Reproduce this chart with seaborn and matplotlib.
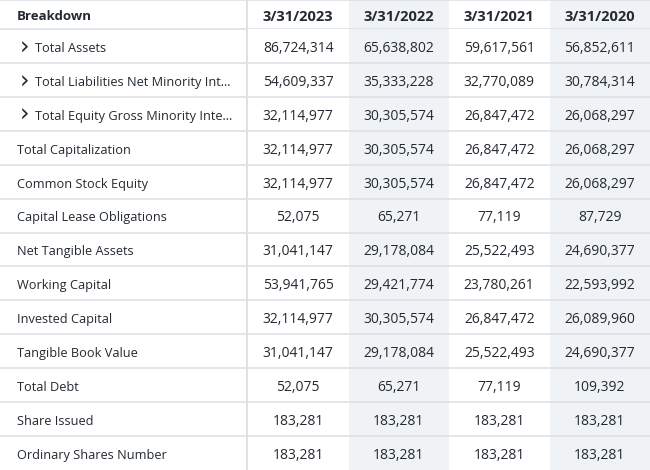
import numpy as np
import pandas as pd
import matplotlib
matplotlib.use("Agg")
import matplotlib.pyplot as plt
from matplotlib.colors import ListedColormap
import seaborn as sns

sns.set_theme(style="white")
plt.rcParams['font.family'] = ['Open Sans', 'DejaVu Sans']

header_label = "Breakdown"
dates = ["3/31/2023", "3/31/2022", "3/31/2021", "3/31/2020"]
row_labels = [
    "Total Assets",
    "Total Liabilities Net Minority Int\u2026",
    "Total Equity Gross Minority Inte\u2026",
    "Total Capitalization",
    "Common Stock Equity",
    "Capital Lease Obligations",
    "Net Tangible Assets",
    "Working Capital",
    "Invested Capital",
    "Tangible Book Value",
    "Total Debt",
    "Share Issued",
    "Ordinary Shares Number",
]
expandable = [True, True, True] + [False] * 10

col_2023 = [86724314, 54609337, 32114977, 32114977, 32114977, 52075, 31041147,
            53941765, 32114977, 31041147, 52075, 183281, 183281]
col_2022 = [65638802, 35333228, 30305574, 30305574, 30305574, 65271, 29178084,
            29421774, 30305574, 29178084, 65271, 183281, 183281]
col_2021 = [59617561, 32770089, 26847472, 26847472, 26847472, 77119, 25522493,
            23780261, 26847472, 25522493, 77119, 183281, 183281]
col_2020 = [56852611, 30784314, 26068297, 26068297, 26068297, 87729, 24690377,
            22593992, 26089960, 24690377, 109392, 183281, 183281]

TEXT = "#232a31"
GRAY = "#f0f3f5"
LINE = "#dfe3e7"
cmap = ListedColormap(["#ffffff", GRAY])

values = pd.DataFrame({d: c for d, c in zip(dates, [col_2023, col_2022, col_2021, col_2020])},
                      index=row_labels)
annot = values.map(lambda v: f"{v:,}")
shade = pd.DataFrame(np.tile([0, 1, 0, 1], (len(row_labels), 1)), index=row_labels, columns=dates)
head_shade = pd.DataFrame([[0, 1, 0, 1]], columns=dates)
head_annot = np.array([dates])

W, H = 650, 470
HEAD = 29
SPLIT = 248
NUDGE = 0.07  # optical vertical centring

def pos(x0, y0, x1, y1):
    return [x0 / W, 1 - y1 / H, (x1 - x0) / W, (y1 - y0) / H]

def nudge(ax, dy):
    for t in ax.texts:
        x, y = t.get_position()
        t.set_position((x, y + dy))

fig = plt.figure(figsize=(6.5, 4.7), dpi=100)

# header row of data columns
axh = fig.add_axes(pos(SPLIT, 0, W, HEAD))
sns.heatmap(head_shade, ax=axh, cmap=cmap, vmin=0, vmax=1, cbar=False,
            annot=head_annot, fmt="", xticklabels=False, yticklabels=False,
            annot_kws=dict(color=TEXT, fontsize=10.5, fontweight="bold"))
nudge(axh, NUDGE)
axh.axhline(0, color=LINE, lw=1.3)
axh.axhline(1, color=LINE, lw=1.3)

# body of data columns
axd = fig.add_axes(pos(SPLIT, HEAD, W, H))
sns.heatmap(shade, ax=axd, cmap=cmap, vmin=0, vmax=1, cbar=False,
            annot=annot.values, fmt="", xticklabels=False, yticklabels=False,
            annot_kws=dict(color=TEXT, fontsize=10))
nudge(axd, NUDGE)
for i in range(1, len(row_labels)):
    axd.axhline(i, color=LINE, lw=1.3)

# label column
axl = fig.add_axes(pos(0, 0, SPLIT, H))
top = -HEAD / ((H - HEAD) / len(row_labels))
axl.set_xlim(0, SPLIT)
axl.set_ylim(len(row_labels), top)
axl.set_facecolor("white")
axl.text(17, top / 2 + 0.05, header_label, ha="left", va="center", fontsize=9.5,
         fontweight="bold", color=TEXT)
for i, (lab, ex) in enumerate(zip(row_labels, expandable)):
    if ex:
        axl.text(20, i + 0.5 + NUDGE - 0.03, "\u203a", ha="left", va="center", fontsize=17,
                 color=TEXT, family=['DejaVu Sans'])
        axl.text(35, i + 0.5 + NUDGE, lab, ha="left", va="center", fontsize=9.2, color=TEXT)
    else:
        axl.text(17, i + 0.5 + NUDGE, lab, ha="left", va="center", fontsize=9.2, color=TEXT)
for i in range(0, len(row_labels)):
    axl.axhline(i, color=LINE, lw=1.3)
axl.axhline(top, color=LINE, lw=1.3)
axl.axvline(SPLIT - 1.5, color="#dde0e4", lw=2.2)
axl.set_xticks([])
axl.set_yticks([])
for s in axl.spines.values():
    s.set_visible(False)

fig.savefig("out.png", dpi=100)
